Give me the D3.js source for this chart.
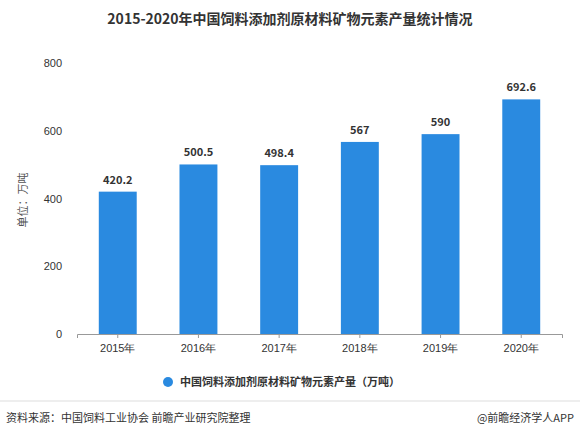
<!DOCTYPE html><html><head><meta charset="utf-8"><script src="https://cdn.jsdelivr.net/npm/d3@7"></script>
<style>body{margin:0;background:#fff;font-family:"Noto Sans CJK SC","Noto Sans",sans-serif}</style></head><body><svg id="c" width="580" height="438"></svg>
<script>
const years=["2015年","2016年","2017年","2018年","2019年","2020年"];
const values=[420.2,500.5,498.4,567,590,692.6];
const labels=["420.2","500.5","498.4","567","590","692.6"];
const yTicks=[0,200,400,600,800];
const svg=d3.select("#c");
const x=d3.scaleBand().domain(years).range([77,562]).paddingInner(0.53).paddingOuter(0.27);
const y=d3.scaleLinear().domain([0,800]).range([334,63]);
svg.append("text").attr("x",290).attr("y",24).attr("text-anchor","middle").attr("font-size",14).attr("font-weight","bold").attr("fill","#333").text("2015-2020年中国饲料添加剂原材料矿物元素产量统计情况");
const ya=svg.append("g").attr("transform","translate(70,0)").call(d3.axisLeft(y).tickValues(yTicks).tickSize(0).tickPadding(8));
ya.select(".domain").remove();
ya.selectAll("text").attr("font-size",11).attr("fill","#333");
const xa=svg.append("g").attr("transform","translate(0,334)").call(d3.axisBottom(x).tickSize(4).tickPadding(6));
xa.select(".domain").attr("stroke","#999");xa.selectAll("line").attr("stroke","#999");
xa.selectAll("text").attr("font-size",11).attr("fill","#333");
svg.append("text").attr("transform","translate(27,200) rotate(-90)").attr("text-anchor","middle").attr("font-size",11).attr("fill","#555").text("单位：万吨");
svg.selectAll(".b").data(values).join("rect").attr("x",(d,i)=>x(years[i])).attr("width",x.bandwidth()).attr("y",d=>y(d)).attr("height",d=>334-y(d)).attr("fill","#2a8ae0");
svg.selectAll(".l").data(values).join("text").attr("x",(d,i)=>x(years[i])+x.bandwidth()/2).attr("y",d=>y(d)-8).attr("text-anchor","middle").attr("font-size",11).attr("font-weight","bold").attr("fill","#333").text((d,i)=>labels[i]);
svg.append("circle").attr("cx",168).attr("cy",382).attr("r",5).attr("fill","#2a8ae0");
svg.append("text").attr("x",180).attr("y",386).attr("font-size",11).attr("font-weight","bold").attr("fill","#333").text("中国饲料添加剂原材料矿物元素产量（万吨）");
svg.append("line").attr("x1",0).attr("x2",580).attr("y1",401).attr("y2",401).attr("stroke","#ddd");
svg.append("text").attr("x",6).attr("y",422).attr("font-size",11).attr("fill","#333").text("资料来源：中国饲料工业协会 前瞻产业研究院整理");
svg.append("text").attr("x",574).attr("y",422).attr("text-anchor","end").attr("font-size",11).attr("fill","#333").text("@前瞻经济学人APP");
</script></body></html>
